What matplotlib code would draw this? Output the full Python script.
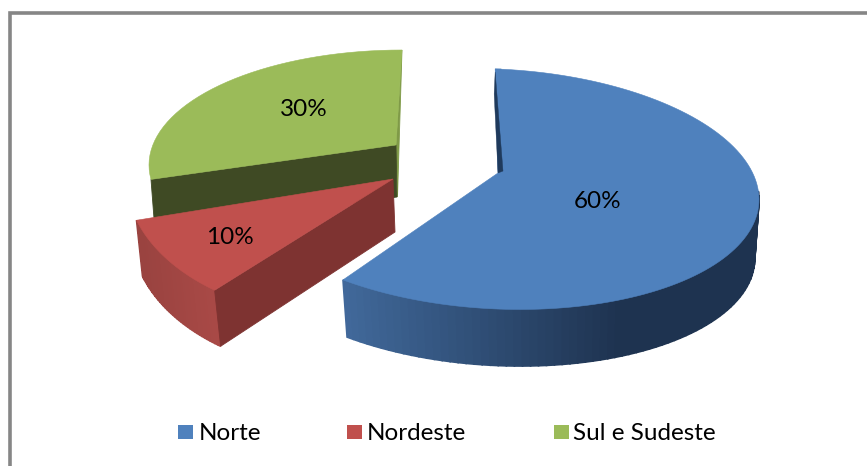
import numpy as np
import matplotlib
matplotlib.use("Agg")
import matplotlib.pyplot as plt
from matplotlib.colors import to_rgb
from matplotlib.patches import Rectangle

categories = ["Norte", "Nordeste", "Sul e Sudeste"]
values = [60, 10, 30]
percent_labels = ["60%", "10%", "30%"]

colors = ["#4f81bd", "#c0504d", "#9bbb59"]
side_colors = ["#1f3a5c", "#7e3331", "#3f4a24"]
wall_left = ["#41699b", "#9a4340", "#7f9a47"]
wall_right = ["#1e3350", "#aa4a47", "#7f9a47"]
wall_fade = [(343, 620), (140, 220), (150, 400)]

# geometry of each exploded slice in canvas pixels (perspective approximated per slice)
ellipse_c = [(497, 189), (341, 177), (402, 165)]
ellipse_r = [(262, 120), (215, 140), (253, 115)]
ellipse_skew = [0.04, 0.0, 0.0]
apex = [(498, 173), (393, 179), (396, 145)]
wall_d = [(1, 59), (6, 56), (4, 52)]
bottom_scale = [0.98, 1.0, 1.0]
angle_warp = [(-0.4, 0), (0, 0), (10.8, 0)]
label_xy = [(598, 201), (230, 238), (304, 110)]
legend_box_x = [178, 347, 554]
legend_text_x = [199, 367, 573]
front_from = 85.0  # the outer wall is only visible on the near side of the pie

W, H = 867, 466
fig = plt.figure(figsize=(W / 100, H / 100), dpi=100)
ax = fig.add_axes([0, 0, 1, 1])
ax.set_xlim(0, W)
ax.set_ylim(H, 0)
ax.axis("off")
plt.rcParams["font.family"] = ["Lato", "DejaVu Sans"]

ax.add_patch(Rectangle((9.5, 13), W + 20, H + 20, fc="white", ec="#868686", lw=2.6, zorder=0))

fracs = np.cumsum([0] + values) / sum(values) * 360.0


def arc(i, t, scale=1.0, shift=(0, 0)):
    r = np.radians(t)
    cx, cy = ellipse_c[i]
    rx, ry = ellipse_r[i]
    dx = scale * rx * np.sin(r)
    dy = scale * ry * (-np.cos(r)) + ellipse_skew[i] * dx
    return cx + shift[0] + dx, cy + shift[1] + dy


def mix(i, x):
    a, b = wall_fade[i]
    f = np.clip((x - a) / (b - a), 0, 1)
    c0, c1 = np.array(to_rgb(wall_left[i])), np.array(to_rgb(wall_right[i]))
    return tuple(c0 + (c1 - c0) * f)


def draw_slice(i, z):
    t0 = fracs[i] + angle_warp[i][0]
    t1 = fracs[i + 1] + angle_warp[i][1]
    ts = np.linspace(t0, t1, 121 if i == 0 else 41)
    x, y = arc(i, ts)
    xb, yb = arc(i, ts, bottom_scale[i], wall_d[i])
    ax_, ay_ = apex[i]

    if i < 2:       # curved outer wall as a fine gradient
        order = range(len(ts) - 1) if i == 1 else range(len(ts) - 2, -1, -1)
        for k in order:
            if ts[k] < front_from:
                continue
            xs = [x[k], x[k + 1], xb[k + 1], xb[k]]
            ys = [y[k], y[k + 1], yb[k + 1], yb[k]]
            c = mix(i, 0.5 * (x[k] + x[k + 1]))
            ax.fill(xs, ys, color=c, lw=1.2, zorder=z)
    if i == 1:      # flat cut side
        ax.fill([ax_, x[0], xb[0], ax_ + 2], [ay_, y[0], yb[0], ay_ + 53],
                color=side_colors[i], lw=0.6, zorder=z + 0.1)
    if i == 2:      # far slice: thin side at its end, dark cut side in front
        ax.fill([x[-1], ax_, ax_ + 1.5], [y[-1], ay_, ay_ + wall_d[i][1]],
                color=wall_right[i], lw=0.6, zorder=z)
        ax.fill([ax_, x[0], xb[0], ax_ + 1], [ay_, y[0], yb[0], ay_ + wall_d[i][1]],
                color=side_colors[i], lw=0.6, zorder=z + 0.1)

    # top face
    ax.fill(np.r_[ax_, x], np.r_[ay_, y], color=colors[i], lw=0.4, zorder=z + 0.2)
    if i == 0:      # thin visible cut side beside the apex
        ax.fill([x[0], x[0] - 1, ax_, ax_ + 5], [y[0] + 3, y[0] + 25, ay_, ay_ - 2],
                color=side_colors[i], lw=0.3, zorder=z + 0.3)
        ax.fill([x[0], x[0] + 6, ax_ + 5], [y[0], y[0], ay_ - 2],
                color=colors[i], lw=0.3, zorder=z + 0.25)


draw_slice(2, 1)
draw_slice(1, 2)
draw_slice(0, 3)

for (lx, ly), s in zip(label_xy, percent_labels):
    ax.text(lx, ly, s, ha="center", va="center", fontsize=17.5, color="black", zorder=6)

for i, name in enumerate(categories):
    ax.add_patch(Rectangle((legend_box_x[i], 425), 15, 14, fc=colors[i], ec="none", zorder=6))
    ax.text(legend_text_x[i], 433, name, ha="left", va="center", fontsize=17.5,
            color="black", zorder=6)

fig.savefig("out.png", dpi=100)
